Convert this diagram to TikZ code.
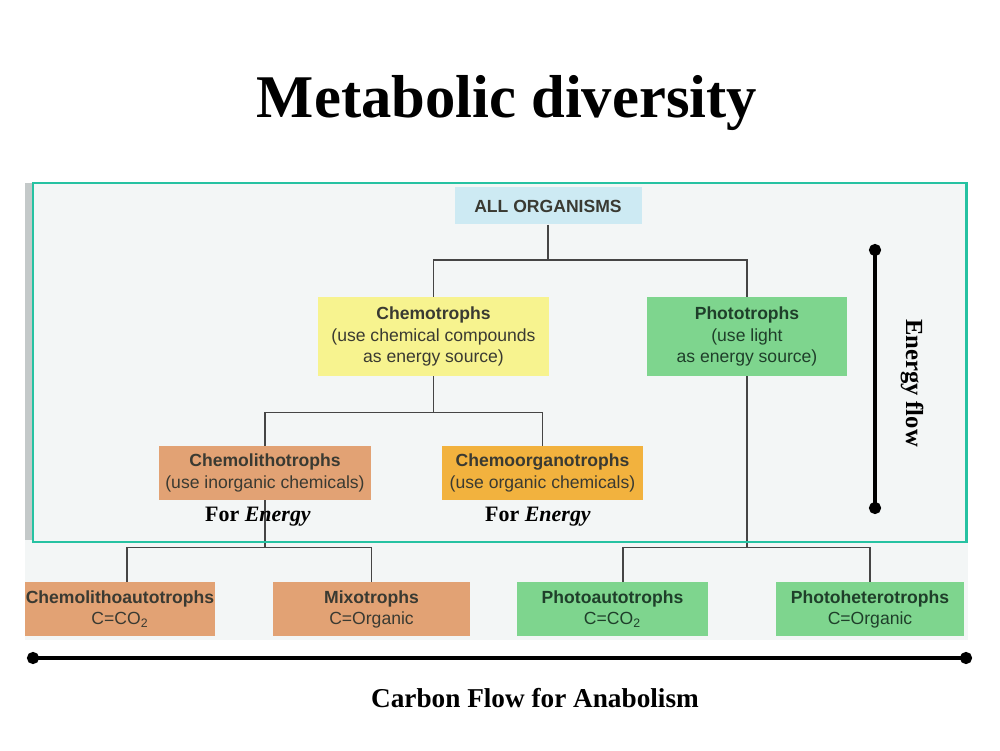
\documentclass[tikz,border=0pt]{standalone}
\usepackage{fontspec}
\setmainfont{Liberation Serif}
\setsansfont{Liberation Sans}
\usepackage{tikz}
\usetikzlibrary{arrows.meta, positioning}
\definecolor{panelbg}{HTML}{F3F6F6}
\definecolor{paneledge}{HTML}{C4C9C9}
\definecolor{frameteal}{HTML}{26C2A2}
\definecolor{rootblue}{HTML}{CDEAF3}
\definecolor{chemoyellow}{HTML}{F7F38F}
\definecolor{photogreen}{HTML}{7ED58E}
\definecolor{lithotan}{HTML}{E2A274}
\definecolor{organoorange}{HTML}{F2B23E}
\definecolor{boxtext}{HTML}{3A3A32}
\definecolor{greentext}{HTML}{1F3F2A}
\definecolor{linegray}{HTML}{454545}
\tikzstyle{treebox} = [rectangle, text centered, align=center, inner sep=0pt, minimum height=1.08cm, text=boxtext, font=\sffamily\fontsize{10}{12}\selectfont]
\tikzstyle{rootbox} = [treebox, fill=rootblue, minimum width=3.74cm, minimum height=0.74cm, font=\sffamily\bfseries\fontsize{10}{12}\selectfont]
\tikzstyle{yellowbox} = [treebox, fill=chemoyellow, minimum width=4.62cm, minimum height=1.58cm]
\tikzstyle{greenbox} = [treebox, fill=photogreen, text=greentext, minimum width=3.82cm]
\tikzstyle{tanbox} = [treebox, fill=lithotan, minimum width=3.9cm]
\tikzstyle{orangebox} = [treebox, fill=organoorange, minimum width=4.02cm]
\tikzstyle{branch} = [draw=linegray, line width=0.8pt]
\tikzstyle{flowbar} = [line width=2.2pt, {Circle[length=2.4mm]}-{Circle[length=2.4mm]}]
\tikzstyle{flowtext} = [font=\bfseries\fontsize{15.5}{18}\selectfont]
\tikzstyle{fortext} = [font=\bfseries\fontsize{12.5}{15}\selectfont]

\begin{document}
\begin{tikzpicture}[node distance=2.7cm]
\useasboundingbox (0,0) rectangle (20,15);
\fill [panelbg] (0.5,2.2) rectangle (19.36,11.34);
\fill [paneledge] (0.5,4.2) rectangle (0.64,11.34);
\node (title) [font=\bfseries\fontsize{34.5}{40}\selectfont] at (10.14,12.94) {Metabolic diversity};
\node (root) [rootbox] at (10.96,10.88) {ALL ORGANISMS};
\node (chemo) [yellowbox, below of=root, xshift=-2.29cm, yshift=0.09cm] {\textbf{Chemotrophs}\\(use chemical compounds\\as energy source)};
\node (photo) [greenbox, minimum width=4cm, minimum height=1.58cm, below of=root, xshift=3.98cm, yshift=0.09cm] {\textbf{Phototrophs}\\(use light\\as energy source)};
\node (clitho) [tanbox, minimum width=4.24cm, below of=chemo, xshift=-3.37cm, yshift=-0.03cm] {\textbf{Chemolithotrophs}\\(use inorganic chemicals)};
\node (corgano) [orangebox, below of=chemo, xshift=2.18cm, yshift=-0.03cm] {\textbf{Chemoorganotrophs}\\(use organic chemicals)};
\node (clauto) [tanbox, minimum width=3.8cm, below of=clitho, xshift=-2.9cm, yshift=-0.02cm] {\textbf{Chemolithoautotrophs}\\C=CO\textsubscript{2}};
\node (mixo) [tanbox, minimum width=3.94cm, below of=clitho, xshift=2.13cm, yshift=-0.02cm] {\textbf{Mixotrophs}\\C=Organic};
\node (pauto) [greenbox, node distance=5.45cm, below of=photo, xshift=-2.69cm] {\textbf{Photoautotrophs}\\C=CO\textsubscript{2}};
\node (phetero) [greenbox, minimum width=3.76cm, node distance=5.45cm, below of=photo, xshift=2.46cm] {\textbf{Photoheterotrophs}\\C=Organic};
\draw [branch] (root.south) -- ++(0,-0.7) -| (chemo.north);
\draw [branch] (root.south) -- ++(0,-0.7) -| (photo.north);
\draw [branch] (chemo.south) -- ++(0,-0.72) -| (clitho.north);
\draw [branch] (chemo.south) -- ++(0,-0.72) -| (corgano.north);
\draw [branch] (clitho.south) -- ++(0,-0.94) -| ([xshift=0.14cm]clauto.north);
\draw [branch] (clitho.south) -- ++(0,-0.94) -| (mixo.north);
\draw [branch] (photo.south) -- ++(0,-3.42) -| ([xshift=0.21cm]pauto.north);
\draw [branch] (photo.south) -- ++(0,-3.42) -| (phetero.north);
\node (forenergy1) [fortext] at (5.16,4.66) {For \textit{Energy}};
\node (forenergy2) [fortext] at (10.76,4.66) {For \textit{Energy}};
\draw [frameteal, line width=1.7pt] (0.66,4.16) rectangle (19.32,11.34);
\coordinate (etop) at (17.5,10.12);
\coordinate (ebot) at (17.5,4.72);
\draw [flowbar] (etop) -- (ebot);
\node (eflabel) [font=\bfseries\fontsize{14}{17}\selectfont, rotate=-90] at (18.24,7.34) {Energy flow};
\coordinate (cleft) at (0.54,1.84);
\coordinate (cright) at (19.44,1.84);
\draw [flowbar] (cleft) -- (cright);
\node (carbonlabel) [flowtext] at (10.7,1.04) {Carbon Flow for Anabolism};
\end{tikzpicture}
\end{document}
